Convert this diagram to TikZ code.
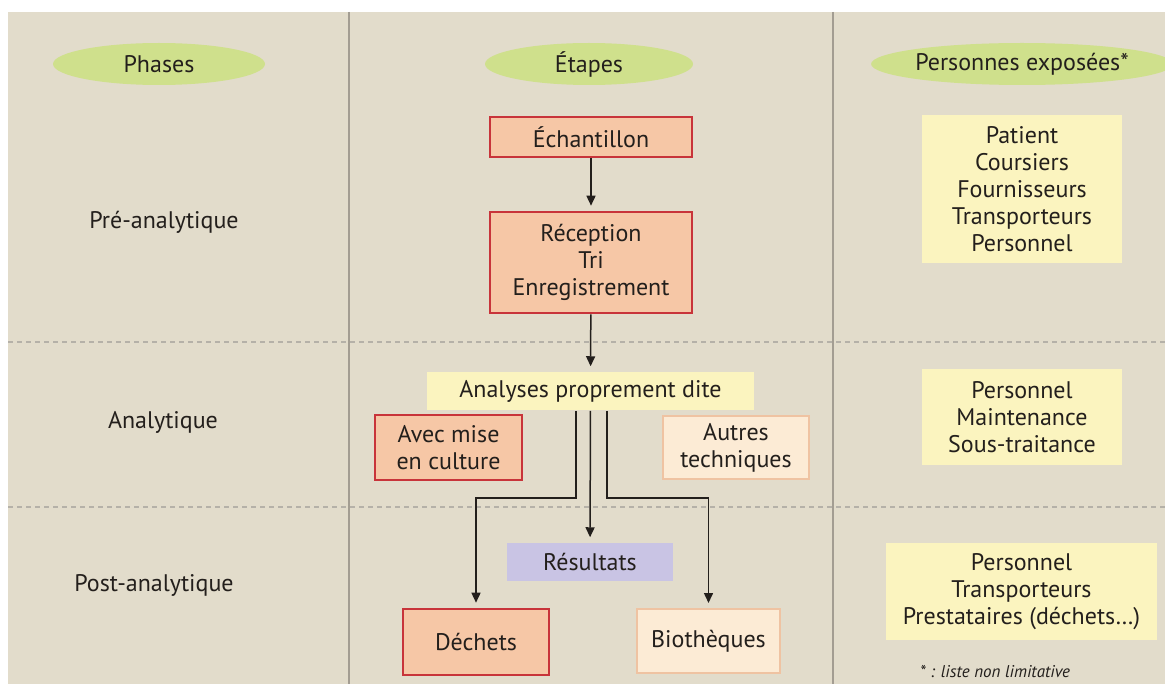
\documentclass[tikz,border=0pt]{standalone}
\usepackage{fontspec}
\setmainfont{PT Sans}
\usetikzlibrary{arrows.meta,shapes.geometric}

\definecolor{fond}{HTML}{E2DCCB}
\definecolor{vertpale}{HTML}{CFE08C}
\definecolor{saumon}{HTML}{F6C7A6}
\definecolor{rougebord}{HTML}{C8343A}
\definecolor{creme}{HTML}{FCEBD5}
\definecolor{pechebord}{HTML}{EFC3A2}
\definecolor{jaunepale}{HTML}{FBF4BF}
\definecolor{lavande}{HTML}{C9C4E4}
\definecolor{trait}{HTML}{A39D92}
\definecolor{texte}{HTML}{231F1C}

\begin{document}
\begin{tikzpicture}[x=0.5pt,y=-0.5pt,line width=0.75pt,
  >={Triangle[length=5pt,width=4.5pt]},
  every node/.style={text=texte,font=\fontsize{12}{13.5}\selectfont},
  tete/.style={ellipse,fill=vertpale,minimum height=21pt,inner sep=0pt},
  boite/.style={rectangle,align=center,inner sep=0pt},
  rouge/.style={boite,draw=rougebord,fill=saumon,line width=1.3pt},
  pale/.style={boite,draw=pechebord,fill=creme,line width=1pt},
  jaune/.style={boite,fill=jaunepale},
  fleche/.style={->,draw=texte,shorten >=2.5pt}]
  \useasboundingbox (0,0) rectangle (1165,684);
  % --- fond et grille ---
  \fill[white] (0,0) rectangle (1165,684);
  \fill[fond] (8,12) rectangle (1165,684);
  \draw[trait,line width=1pt] (349,12) -- (349,684);
  \draw[trait,line width=1pt] (833,12) -- (833,684);
  \draw[trait!80,line width=0.6pt,dash pattern=on 2.5pt off 2pt] (8,342) -- (1165,342);
  \draw[trait!80,line width=0.6pt,dash pattern=on 2.5pt off 2pt] (8,507) -- (1165,507);
  % --- en-tetes ---
  \node[tete,minimum width=106pt] (hPhases) at (159,64) {Phases};
  \node[tete,minimum width=104pt] (hEtapes) at (589,64) {Étapes};
  \node[tete,minimum width=140pt] (hPers) at (1022,64) {Personnes exposées*};
  % --- phases ---
  \node (pre) at (164,222) {Pré-analytique};
  \node (anal) at (163,422) {Analytique};
  \node (post) at (154,585) {Post-analytique};
  % --- etapes ---
  \node[rouge,minimum width=101pt,minimum height=20pt] (ech) at (591,137) {Échantillon};
  \node[rouge,minimum width=101pt,minimum height=50.5pt] (rec) at (591,262.5) {Réception\\Tri\\Enregistrement};
  \node[jaune,minimum width=163.5pt,minimum height=19pt] (ana) at (590.5,391) {Analyses proprement dite};
  \node[rouge,minimum width=73.5pt,minimum height=32.5pt] (cult) at (448.5,447.5) {Avec mise\\en culture};
  \node[pale,minimum width=73pt,minimum height=31.5pt] (autres) at (736,447.5) {Autres\\techniques};
  \node[boite,fill=lavande,minimum width=83pt,minimum height=19pt] (res) at (590,562) {Résultats};
  \node[rouge,minimum width=73pt,minimum height=33pt] (dech) at (476,642) {Déchets};
  \node[pale,minimum width=71.5pt,minimum height=32pt] (bio) at (708.5,641) {Biothèques};
  % --- personnes exposees ---
  \node[jaune,minimum width=100pt,minimum height=74pt] (pers1) at (1022,189) {Patient\\Coursiers\\Fournisseurs\\Transporteurs\\Personnel};
  \node[jaune,minimum width=100pt,minimum height=48pt] (pers2) at (1022,417) {Personnel\\Maintenance\\Sous-traitance};
  \node[jaune,minimum width=135.5pt,minimum height=48.5pt] (pers3) at (1021.5,591.5) {Personnel\\Transporteurs\\Prestataires (déchets…)};
  \node[font=\itshape\fontsize{8.5}{10}\selectfont] (note) at (995,672) {* : liste non limitative};
  % fleches
  \draw[fleche] (ech) -- (rec);
  \draw[fleche] (rec) -- (ana);
  \draw[fleche] (ana) -- (res);
  \coordinate (kG) at (576,498);
  \coordinate (kD) at (607,498);
  \draw[fleche] (ana.south -| kG) -- (kG) -| (dech);
  \draw[fleche] (ana.south -| kD) -- (kD) -| (bio);
\end{tikzpicture}
\end{document}
